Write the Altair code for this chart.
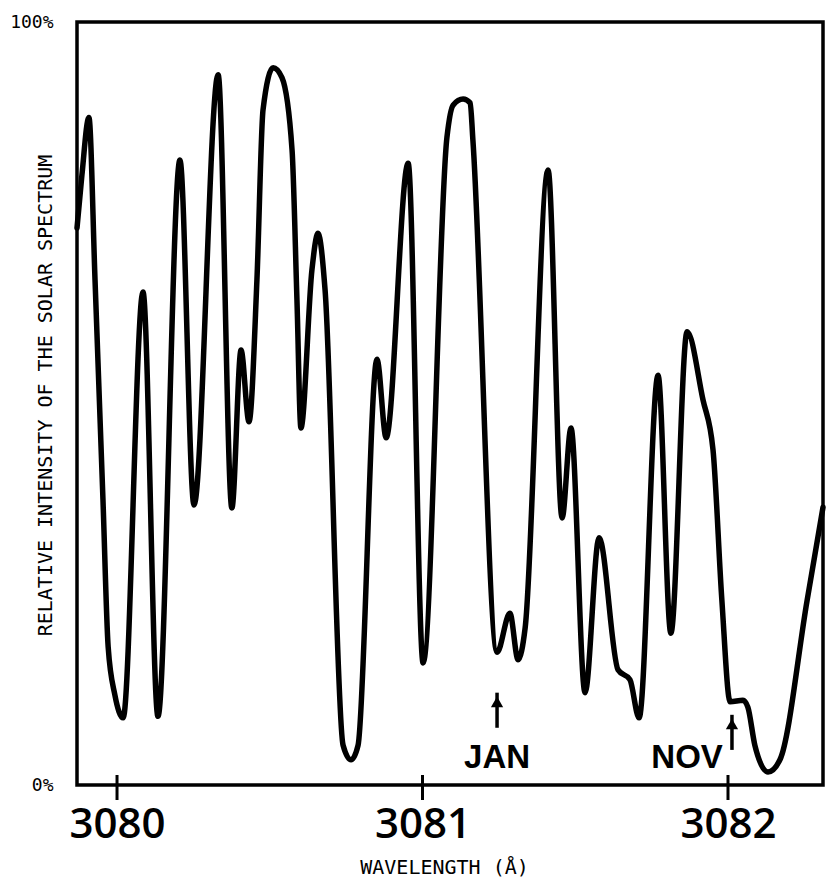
import altair as alt
import pandas as pd

# Spectrum trace: wavelength (Angstrom) and relative intensity (%)
wavelength = [3079.869, 3079.885, 3079.908, 3079.928, 3079.954, 3079.971, 3079.993, 3080.020,
              3080.085, 3080.134, 3080.206, 3080.252, 3080.331, 3080.376, 3080.406, 3080.432,
              3080.458, 3080.478, 3080.511, 3080.540, 3080.573, 3080.589, 3080.602, 3080.638,
              3080.658, 3080.681, 3080.740, 3080.766, 3080.789, 3080.851, 3080.881, 3080.953,
              3081.002, 3081.080, 3081.100, 3081.133, 3081.156, 3081.165, 3081.244, 3081.286,
              3081.313, 3081.336, 3081.411, 3081.457, 3081.486, 3081.532, 3081.578, 3081.640,
              3081.679, 3081.709, 3081.771, 3081.813, 3081.866, 3081.918, 3081.951, 3081.980,
              3082.007, 3082.049, 3082.065, 3082.088, 3082.131, 3082.170, 3082.259, 3082.311]
intensity = [73.0, 79.9, 87.5, 66.2, 37.4, 18.1, 11.8, 8.8,
             64.6, 9.0, 81.9, 36.7, 93.1, 36.3, 57.0, 47.6,
             66.2, 88.5, 94.0, 92.7, 83.2, 63.6, 46.8, 67.5,
             72.3, 64.9, 5.2, 3.3, 5.2, 55.8, 45.5, 81.5,
             16.0, 84.9, 89.1, 89.9, 89.4, 84.5, 17.4, 22.5,
             16.4, 20.6, 80.6, 35.0, 46.8, 12.1, 32.4, 15.1,
             13.8, 8.8, 53.7, 19.9, 59.4, 50.5, 43.9, 24.2,
             10.9, 11.1, 10.2, 5.2, 1.7, 3.3, 24.2, 36.4]

tick_values = [3080, 3081, 3082]
y_tick_values = [0, 100]

# Month markers
month_labels = ["JAN", "NOV"]
month_wl = [3081.244, 3082.013]
arrow_tip = [12.1, 9.2]
arrow_head = [10.9, 8.0]
arrow_base = [7.5, 4.6]
label_wl = [3081.244, 3081.866]
label_pct = [2.2, 2.2]

x_domain = [3079.869, 3082.311]
y_domain = [0, 100]

spec_df = pd.DataFrame({"wl": wavelength, "pct": intensity})
ticks_df = pd.DataFrame({"t": tick_values})
ann_df = pd.DataFrame({"m": month_labels, "wl": month_wl, "tip": arrow_tip,
                       "head": arrow_head, "base": arrow_base,
                       "lwl": label_wl, "lpct": label_pct})

xscale = alt.Scale(domain=x_domain, nice=False, zero=False)
yscale = alt.Scale(domain=y_domain, nice=False, zero=False)

MONO = "DejaVu Sans Mono"

line = alt.Chart(spec_df).mark_line(
    color="black", strokeWidth=5.5, interpolate="monotone",
    strokeCap="round", strokeJoin="round"
).encode(
    x=alt.X("wl:Q", scale=xscale, axis=alt.Axis(
        values=tick_values, format="d", ticks=False, tickSize=0, domain=False, grid=False,
        labelFont="Open Sans", labelFontSize=42, labelFontWeight=600, labelColor="black",
        labelBaseline="alphabetic", labelPadding=52,
        title="WAVELENGTH  (Å)", titleFont=MONO, titleFontSize=20, titleFontWeight="normal",
        titleColor="black", titleX=367, titleY=88, titleAlign="center", titleBaseline="alphabetic")),
    y=alt.Y("pct:Q", scale=yscale, axis=alt.Axis(
        values=y_tick_values, labelExpr="datum.value + '%'", ticks=False, tickSize=0,
        domain=False, grid=False, labelFont=MONO, labelFontSize=18, labelColor="black",
        labelAlign="right", labelBaseline="middle", labelPadding=24,
        title="RELATIVE INTENSITY OF THE SOLAR SPECTRUM", titleFont=MONO, titleFontSize=20,
        titleFontWeight="normal", titleColor="black", titleAngle=270, titleX=-32, titleY=373,
        titleAlign="center", titleBaseline="middle")),
)

tick_rules = alt.Chart(ticks_df).mark_rule(color="black", strokeWidth=3).encode(
    x=alt.X("t:Q", scale=xscale),
    y=alt.value(753), y2=alt.value(778),
)

shafts = alt.Chart(ann_df).mark_rule(color="black", strokeWidth=3.5).encode(
    x=alt.X("wl:Q", scale=xscale),
    y=alt.Y("tip:Q", scale=yscale), y2="base:Q",
)

heads = alt.Chart(ann_df).mark_point(
    shape="triangle-up", filled=True, color="black", opacity=1, size=150
).encode(
    x=alt.X("wl:Q", scale=xscale),
    y=alt.Y("head:Q", scale=yscale),
)

labels = alt.Chart(ann_df).mark_text(
    font="Liberation Sans", fontSize=33, fontWeight="bold", color="black",
    align="center", baseline="alphabetic"
).encode(
    x=alt.X("lwl:Q", scale=xscale),
    y=alt.Y("lpct:Q", scale=yscale),
    text="m:N",
)

chart = alt.layer(line, tick_rules, shafts, heads, labels).properties(
    width=746, height=763,
    autosize=alt.AutoSizeParams(type="none"),
    padding={"left": 69, "top": 14, "right": 4, "bottom": 94},
    background="white",
).configure_view(
    stroke="black", strokeWidth=3.5, fill="white"
)

chart.save("out.html", embed_options={"renderer": "svg", "actions": False})
